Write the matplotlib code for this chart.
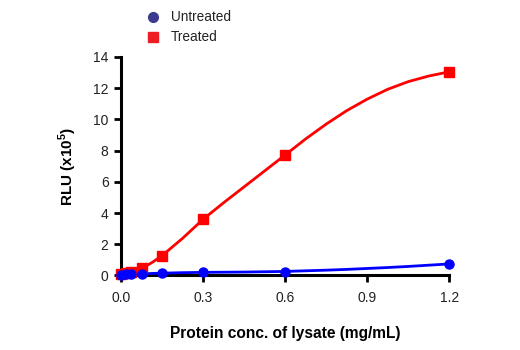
import numpy as np
import matplotlib
matplotlib.use("Agg")
import matplotlib.pyplot as plt

plt.rcParams['font.family'] = ['Liberation Sans Narrow', 'Liberation Sans', 'DejaVu Sans']

# measured points
conc = [0.0, 0.01875, 0.0375, 0.075, 0.15, 0.3, 0.6, 1.2]
untreated = [0.05, 0.07, 0.08, 0.1, 0.15, 0.2, 0.22, 0.74]
treated = [0.1, 0.15, 0.24, 0.46, 1.27, 3.6, 7.7, 13.05]

# fitted curves
fit_x = [0.0, 0.0375, 0.075, 0.1125, 0.15, 0.225, 0.3, 0.375, 0.45, 0.525, 0.6, 0.675,
         0.75, 0.825, 0.9, 0.975, 1.05, 1.125, 1.2]
fit_treated = [0.1, 0.22, 0.45, 0.82, 1.27, 2.38, 3.6, 4.66, 5.68, 6.7, 7.72, 8.75,
               9.7, 10.56, 11.3, 11.93, 12.42, 12.78, 13.05]
fit_untreated = [0.05, 0.08, 0.1, 0.13, 0.15, 0.18, 0.2, 0.21, 0.22, 0.24, 0.26, 0.3,
                 0.34, 0.39, 0.45, 0.51, 0.58, 0.66, 0.74]

RED = '#ff0000'
BLUE = '#0000ff'

fig = plt.figure(figsize=(5.2, 3.5), dpi=100)
ax = fig.add_axes([0.2327, 0.2129, 0.6313, 0.6243])

ax.plot(fit_x, fit_treated, color=RED, lw=2.0, clip_on=False, zorder=3)
ax.plot(fit_x, fit_untreated, color=BLUE, lw=2.0, clip_on=False, zorder=4)
ax.plot(conc, treated, 's', color=RED, ms=6.5, clip_on=False, zorder=5)
ax.plot(conc, untreated, 'o', color=BLUE, ms=6.5, clip_on=False, zorder=6)

ax.set_xlim(0, 1.2)
ax.set_ylim(0, 14)
ax.set_xticks([0, 0.3, 0.6, 0.9, 1.2])
ax.set_xticklabels(['0.0', '0.3', '0.6', '0.9', '1.2'])
ax.set_yticks(range(0, 15, 2))

for s in ['top', 'right']:
    ax.spines[s].set_visible(False)
for s in ['left', 'bottom']:
    ax.spines[s].set_linewidth(2.2)
ax.tick_params(width=2, length=5, labelsize=10, color='black', labelcolor='#222222')
ax.tick_params(axis='x', pad=6)
ax.tick_params(axis='y', pad=4)

ax.set_xlabel('Protein conc. of lysate (mg/mL)', fontsize=11.2, fontweight='bold', labelpad=15)
ax.set_ylabel('RLU (x10$^\\mathregular{5}$)', fontsize=11, fontweight='bold', labelpad=10)

# legend
fig.lines.append(plt.Line2D([153 / 520], [1 - 17 / 350], marker='o', ms=7, color='#3b3b8f',
                            transform=fig.transFigure, linestyle='none'))
fig.lines.append(plt.Line2D([153 / 520], [1 - 37 / 350], marker='s', ms=6.5, color='#ee1c25',
                            transform=fig.transFigure, linestyle='none'))
fig.text(171 / 520, 1 - 17 / 350, 'Untreated', fontsize=9.8, va='center', color='#222222')
fig.text(171 / 520, 1 - 37 / 350, 'Treated', fontsize=9.8, va='center', color='#222222')

fig.savefig('out.png', dpi=100)
